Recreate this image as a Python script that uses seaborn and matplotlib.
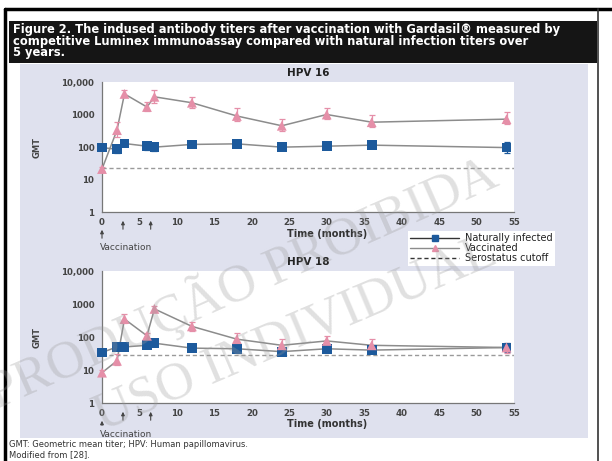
import matplotlib
matplotlib.use('Agg')
import matplotlib.pyplot as plt
from matplotlib.lines import Line2D
from matplotlib.patches import Rectangle
import numpy as np
import pandas as pd
import seaborn as sns

sns.set_style("white")

# --- data (GMT, log scale) ---
months = [0, 2, 3, 6, 7, 12, 18, 24, 30, 36, 54]

vac16 = [21, 330, 4300, 1700, 3500, 2300, 900, 450, 1000, 580, 720]
vac16_lo = [18, 200, 3500, 1260, 2200, 1600, 610, 320, 750, 410, 520]
vac16_hi = [25, 585, 5700, 2460, 5700, 3500, 1530, 750, 1530, 950, 1200]
nat16 = [96, 85, 128, 106, 99, 120, 125, 99, 106, 114, 96]
nat16_lo = [88, 65, 115, 82, 76, 108, 108, 90, 95, 102, 66]
nat16_hi = [105, 115, 142, 140, 130, 133, 145, 110, 118, 127, 140]
cutoff16 = 22

vac18 = [8.3, 19, 350, 109, 710, 210, 86, 56, 76, 56, 48]
vac18_lo = [7, 14, 260, 90, 560, 150, 60, 40, 55, 38, 33]
vac18_hi = [10, 30, 500, 130, 900, 290, 130, 85, 110, 90, 65]
nat18 = [34, 50, 50, 56, 65, 46, 44, 36, 44, 40, 48]
nat18_lo = [31, 42, 43, 50, 57, 42, 39, 32, 39, 36, 34]
nat18_hi = [38, 62, 60, 63, 73, 51, 50, 41, 50, 45, 66]
cutoff18 = 29

vacc_arrows = [0, 2.8, 6.5]
ytick_vals = [1, 10, 100, 1000, 10000]
ytick_labels = ['1', '10', '100', '1000', '10,000']
groups = ['Naturally infected', 'Vaccinated']

title_txt = ("Figure 2. The indused antibody titers after vaccination with Gardasil\u00ae measured by\n"
             "competitive Luminex immunoassay compared with natural infection titers over\n"
             "5 years.")
foot_lines = ["GMT: Geometric mean titer; HPV: Human papillomavirus.", "Modified from [28]."]

W, H = 612, 461
BLUE = '#1d5a9c'
PINK = '#e58fa8'
LINE = '#8c8c8c'


def frame(nat, nat_lo, nat_hi, vac, vac_lo, vac_hi):
    a = pd.DataFrame({'month': months, 'gmt': nat, 'lo': nat_lo, 'hi': nat_hi, 'group': groups[0]})
    b = pd.DataFrame({'month': months, 'gmt': vac, 'lo': vac_lo, 'hi': vac_hi, 'group': groups[1]})
    return pd.concat([a, b], ignore_index=True)


def draw_panel(ax, df, cutoff, title, h_px, lab_px, vac_px):
    ax.set_facecolor('white')
    ax.axhline(cutoff, color='#9a9a9a', lw=1.0, ls=(0, (3, 2)), zorder=1)
    sns.lineplot(data=df, x='month', y='gmt', hue='group', estimator=None,
                 palette={groups[0]: LINE, groups[1]: LINE}, lw=1.1,
                 legend=False, ax=ax, zorder=2)
    for g, c in zip(groups, [BLUE, PINK]):
        d = df[df.group == g]
        ax.errorbar(d.month, d.gmt, yerr=[d.gmt - d.lo, d.hi - d.gmt], fmt='none',
                    ecolor=c, elinewidth=0.9, capsize=2.2, capthick=0.9, zorder=3,
                    clip_on=False)
    sns.scatterplot(data=df, x='month', y='gmt', hue='group', style='group',
                    palette={groups[0]: BLUE, groups[1]: PINK},
                    markers={groups[0]: 's', groups[1]: '^'}, s=50,
                    edgecolor='none', legend=False, ax=ax, zorder=4, clip_on=False)
    ax.set_yscale('log')
    ax.set_ylim(1, 10000)
    ax.set_xlim(0, 55)
    ax.set_yticks(ytick_vals)
    ax.set_yticklabels(ytick_labels)
    ax.set_xticks(range(0, 56, 5))
    ax.tick_params(axis='both', labelsize=6.2, labelcolor='#444', colors='#777',
                   direction='inout', length=5, width=0.8, pad=3)
    ax.tick_params(axis='x', pad=2)
    ax.tick_params(axis='y', which='minor', direction='inout', length=3, width=0.6, colors='#888')
    for lab in ax.get_xticklabels() + ax.get_yticklabels():
        lab.set_fontweight('bold')
    for s in ['top', 'right']:
        ax.spines[s].set_visible(False)
    for s in ['left', 'bottom']:
        ax.spines[s].set_color('#777')
        ax.spines[s].set_linewidth(0.9)
    ax.set_xlabel('')
    ax.set_ylabel('GMT', fontsize=6, fontweight='bold', color='#444')
    ax.yaxis.set_label_coords(-60 / 412, 0.5)
    ax.set_title(title, fontsize=7.5, fontweight='bold', color='#222', pad=4)

    tr = ax.get_xaxis_transform()
    f = lambda px: -px / h_px
    ax.text(30, f(lab_px), 'Time (months)', transform=tr, ha='center', va='center',
            fontsize=7, fontweight='bold', color='#333')
    for i, t in enumerate(vacc_arrows):
        y0, y1 = (vac_px - 6, 15) if i == 0 else (20, 6)
        ax.annotate('', xy=(t, f(y1)), xytext=(t, f(y0)), xycoords=tr, textcoords=tr,
                    arrowprops=dict(arrowstyle='-|>', color='#444', lw=0.8,
                                    mutation_scale=5), annotation_clip=False)
    ax.text(-0.3, f(vac_px), 'Vaccination', transform=tr, ha='left', va='center',
            fontsize=6.5, color='#444')


fig = plt.figure(figsize=(W / 100, H / 100), dpi=100)
fig.patch.set_facecolor('white')

# page frame, title bar and panel background
fig.add_artist(Rectangle((20 / W, 1 - 438 / H), 568 / W, 374 / H, transform=fig.transFigure,
                         facecolor='#dfe1ee', edgecolor='none', zorder=0))
fig.add_artist(Rectangle((9 / W, 1 - 63 / H), 588 / W, 42 / H, transform=fig.transFigure,
                         facecolor='#151515', edgecolor='none', zorder=0))
fig.add_artist(Line2D([5 / W, 1], [1 - 9 / H, 1 - 9 / H], transform=fig.transFigure,
                      color='black', lw=2.5))
fig.add_artist(Line2D([5 / W, 5 / W], [0, 1 - 9 / H], transform=fig.transFigure,
                      color='black', lw=2.5))
fig.add_artist(Line2D([598 / W, 598 / W], [0, 1 - 9 / H], transform=fig.transFigure,
                      color='#333', lw=1.2))

fig.text(13 / W, 1 - 23 / H, title_txt, color='white', fontsize=8.3, fontweight='bold',
         va='top', ha='left', linespacing=0.86)
fig.text(9 / W, 1 - 444 / H, foot_lines[0], color='#333', fontsize=6, va='center', ha='left')
fig.text(9 / W, 1 - 455 / H, foot_lines[1], color='#333', fontsize=6, va='center', ha='left')

ax1 = fig.add_axes([102 / W, 1 - 212 / H, 412 / W, 130 / H])
ax2 = fig.add_axes([102 / W, 1 - 403 / H, 412 / W, 132 / H])

draw_panel(ax1, frame(nat16, nat16_lo, nat16_hi, vac16, vac16_lo, vac16_hi), cutoff16, 'HPV 16',
           130, 22, 35)
draw_panel(ax2, frame(nat18, nat18_lo, nat18_hi, vac18, vac18_lo, vac18_hi), cutoff18, 'HPV 18',
           132, 21, 31)

handles = [
    Line2D([], [], color='#333', lw=1, marker='s', markersize=5, markerfacecolor=BLUE, markeredgecolor=BLUE),
    Line2D([], [], color=LINE, lw=1, marker='^', markersize=5, markerfacecolor=PINK, markeredgecolor=PINK),
    Line2D([], [], color='#333', lw=1, ls=(0, (3, 2))),
]
fig.legend(handles, ['Naturally infected', 'Vaccinated', 'Serostatus cutoff'],
           loc='upper left', bbox_to_anchor=(408 / W, 1 - 231 / H), frameon=True,
           facecolor='white', edgecolor='none', fancybox=False, framealpha=1,
           fontsize=7, handlelength=5, borderpad=0.25, labelspacing=0.0,
           handletextpad=0.6, borderaxespad=0, labelcolor='#222')

# watermark
fig.text(494 / W, 1 - 170 / H, 'REPRODUÇÃO PROIBIDA', rotation=24, rotation_mode='anchor',
         ha='right', va='center', fontsize=38, family='Liberation Serif',
         color='#9a9a9a', alpha=0.3, zorder=10)
fig.text(494 / W, 1 - 250 / H, 'USO INDIVIDUAL', rotation=23, rotation_mode='anchor',
         ha='right', va='center', fontsize=38, family='Liberation Serif',
         color='#9a9a9a', alpha=0.3, zorder=10)

fig.savefig('out.png', dpi=100)
